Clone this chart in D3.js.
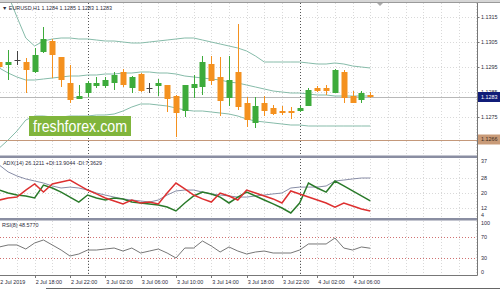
<!DOCTYPE html>
<html>
<head>
<meta charset="utf-8">
<script src="https://cdn.jsdelivr.net/npm/d3@7"></script>
<style>
body{margin:0;background:#fff}
svg{display:block;font-family:"Liberation Sans",Arial,sans-serif}
</style>
</head>
<body>
<svg id="chart" width="500" height="289"></svg>
<script>
// hourly bars, EURUSD H1
const times = [
  '2 Jul 14:00','2 Jul 15:00','2 Jul 16:00','2 Jul 17:00','2 Jul 18:00','2 Jul 19:00','2 Jul 20:00','2 Jul 21:00','2 Jul 22:00','2 Jul 23:00',
  '3 Jul 00:00','3 Jul 01:00','3 Jul 02:00','3 Jul 03:00','3 Jul 04:00','3 Jul 05:00','3 Jul 06:00','3 Jul 07:00','3 Jul 08:00','3 Jul 09:00',
  '3 Jul 10:00','3 Jul 11:00','3 Jul 12:00','3 Jul 13:00','3 Jul 14:00','3 Jul 15:00','3 Jul 16:00','3 Jul 17:00','3 Jul 18:00','3 Jul 19:00',
  '3 Jul 20:00','3 Jul 21:00','3 Jul 22:00','3 Jul 23:00','4 Jul 00:00','4 Jul 01:00','4 Jul 02:00','4 Jul 03:00','4 Jul 04:00','4 Jul 05:00',
  '4 Jul 06:00','4 Jul 07:00','4 Jul 08:00'
]
const open  = [1.1297,1.12958,1.12978,1.1297,1.1293,1.1301,1.13054,1.1299,1.12886,1.12822,
  1.12846,1.12874,1.12874,1.12886,1.1293,1.12866,1.12922,1.12866,1.12874,1.12878,
  1.12834,1.12774,1.12866,1.1287,1.12962,1.1291,1.12826,1.1293,1.12806,1.12726,
  1.12806,1.12786,1.12774,1.12774,1.12774,1.12794,1.12866,1.12866,1.12846,1.1293,
  1.12834,1.12818,1.12838]
const high  = [1.13018,1.13018,1.13014,1.12986,1.13026,1.1311,1.13062,1.1299,1.12958,1.12878,
  1.12894,1.1291,1.1291,1.1293,1.12942,1.12914,1.12926,1.12886,1.12902,1.12878,
  1.12838,1.12878,1.12918,1.12994,1.12994,1.1299,1.12994,1.13122,1.1283,1.1283,
  1.12834,1.12798,1.12794,1.1279,1.12794,1.12866,1.12874,1.12878,1.12942,1.12938,
  1.12854,1.12854,1.1285]
const low   = [1.12938,1.12898,1.12958,1.12846,1.12926,1.13006,1.12906,1.1287,1.12806,1.12822,
  1.1283,1.12866,1.12866,1.12858,1.1287,1.12846,1.1285,1.12846,1.12834,1.1277,
  1.1267,1.1275,1.12826,1.12838,1.12878,1.12754,1.12794,1.12778,1.1271,1.12706,
  1.12754,1.12758,1.12758,1.12742,1.1277,1.12794,1.1285,1.12838,1.12846,1.12806,
  1.12806,1.12806,1.12826]
const close = [1.1295,1.1297,1.12978,1.12938,1.12998,1.13062,1.12998,1.12898,1.12818,1.12834,
  1.12886,1.12886,1.12898,1.12918,1.12878,1.1291,1.12854,1.12866,1.12886,1.12822,
  1.12766,1.12878,1.12882,1.1297,1.12894,1.12814,1.12898,1.1279,1.12738,1.12794,
  1.12774,1.12762,1.12766,1.12766,1.12786,1.12858,1.12854,1.12854,1.12938,1.12826,
  1.12806,1.12846,1.1283]

const bbUpper = [1.13318,1.13238,1.1315,1.13066,1.13034,1.13054,1.13062,1.13066,1.13066,1.13062,
  1.13062,1.13058,1.13054,1.13054,1.1305,1.13046,1.13046,1.1305,1.13054,1.13058,
  1.13062,1.13066,1.13066,1.13058,1.1305,1.13042,1.13034,1.13026,1.13014,1.12994,
  1.1297,1.1297,1.1297,1.1297,1.1297,1.12966,1.12962,1.12962,1.12966,1.12962,
  1.12954,1.1295,1.12946]
const bbMiddle = [1.12946,1.12926,1.1291,1.12898,1.12898,1.12902,1.12906,1.1291,1.12914,1.12914,
  1.12918,1.12918,1.12922,1.12922,1.12926,1.12926,1.1293,1.1293,1.12926,1.12926,
  1.12922,1.12914,1.1291,1.12906,1.12902,1.12898,1.1289,1.12886,1.12878,1.1287,
  1.12862,1.12854,1.1285,1.12846,1.12846,1.12842,1.12838,1.12838,1.12834,1.12834,
  1.12834,1.12834,1.12834]
const bbLower = [1.12626,1.12658,1.12694,1.12738,1.12754,1.12754,1.1275,1.1275,1.12754,1.12754,
  1.12754,1.12758,1.12758,1.12762,1.12774,1.1279,1.12802,1.12802,1.12798,1.12794,
  1.12786,1.12778,1.12774,1.12774,1.1277,1.12766,1.12762,1.12754,1.12742,1.12734,
  1.1273,1.12726,1.12722,1.12718,1.12718,1.12714,1.12714,1.12714,1.12714,1.12714,
  1.12714,1.12714,1.12714]

const adx     = [35.1,31.4,29.2,27.6,26.5,25.4,23.8,22.7,23.2,22.7,
  21.6,20.0,18.9,17.8,16.8,16.2,15.7,15.1,16.2,18.9,
  21.1,21.6,21.6,20.5,19.5,18.9,18.4,17.8,17.8,18.4,
  18.9,19.5,20.0,22.7,23.2,23.2,23.2,23.8,26.5,27.0,
  27.6,28.1,28.1]
const plusDI  = [21.6,20.0,18.9,18.4,17.3,24.3,22.7,20.5,17.8,15.1,
  18.9,17.3,16.2,17.3,16.8,15.1,14.6,14.1,13.5,12.4,
  10.3,14.6,18.4,20.5,19.5,17.8,14.6,17.8,20.5,18.4,
  16.2,14.1,11.9,9.2,14.6,25.4,22.7,20.5,26.5,23.8,
  21.1,18.4,15.7]
const minusDI = [16.2,17.3,17.8,21.6,24.9,20.5,24.9,25.9,27.0,24.3,
  21.6,19.5,17.3,15.7,14.1,16.2,14.6,15.1,14.1,20.0,
  25.4,22.2,18.9,16.8,15.1,20.0,18.4,16.2,21.6,20.0,
  18.4,16.8,14.6,21.1,19.5,17.8,16.2,14.6,12.4,14.6,
  13.0,11.4,10.3]
const rsi = [51.0,54.8,54.8,47.1,58.6,64.3,54.8,45.2,33.8,37.6,
  45.2,45.2,47.1,49.0,43.3,49.0,39.5,43.3,47.1,39.5,
  30.0,49.0,49.0,62.4,52.9,41.4,51.0,43.3,37.6,41.4,
  43.3,39.5,39.5,39.5,45.2,56.7,56.7,56.7,68.1,49.0,
  45.2,51.0,48.6]

const priceTicks = [1.1315,1.1305,1.1295,1.1285,1.1275]
const adxTicks = [37,28,20,12,4]
const rsiTicks = [100,70,30,0]
const rsiLevels = [70,30]
const timeTickAt = ['2 Jul 14:00','2 Jul 18:00','2 Jul 22:00','3 Jul 02:00','3 Jul 06:00','3 Jul 10:00',
  '3 Jul 14:00','3 Jul 18:00','3 Jul 22:00','4 Jul 02:00','4 Jul 06:00']
const timeTickLabels = ['2 Jul 2019','2 Jul 18:00','2 Jul 22:00','3 Jul 02:00','3 Jul 06:00','3 Jul 10:00',
  '3 Jul 14:00','3 Jul 18:00','3 Jul 22:00','4 Jul 02:00','4 Jul 06:00']
const daySeparators = ['3 Jul 00:00','4 Jul 00:00']
const bidPrice = 1.1283
const linePrice = 1.1266

const svg = d3.select('#chart')
const axisX = 477.5
const panels = {main:[3,156], adx:[159,218], rsi:[221,275]}

const x = d3.scalePoint().domain(times).range([-0.7, 370.3])
const step = x.step()
const yP = d3.scaleLinear().domain([1.1265,1.1315]).range([142,17])
const yA = d3.scaleLinear().domain([20,37]).range([193,161.55])
const yR = d3.scaleLinear().domain([30,70]).range([258,237])

const defs = svg.append('defs')
Object.entries(panels).forEach(([k,[t,b]])=>{
  defs.append('clipPath').attr('id','clip-'+k)
    .append('rect').attr('x',0).attr('y',t).attr('width',axisX).attr('height',b-t)
})

// top strip
svg.append('rect').attr('x',0).attr('y',0).attr('width',500).attr('height',2).attr('fill','#d6d6d6')
svg.append('line').attr('x1',0).attr('x2',500).attr('y1',2.5).attr('y2',2.5).attr('stroke','#9a9a9a')

// vertical grid every two bars
const gridXs = []
for(let gx = x(times[0]); gx < axisX; gx += step*2){ if(gx > 0) gridXs.push(gx) }
const grid = svg.append('g').attr('stroke','#d9d9d9').attr('stroke-dasharray','1,2')
Object.values(panels).forEach(([t,b])=>{
  grid.selectAll(null).data(gridXs).enter().append('line')
    .attr('x1',d=>Math.round(d)+0.5).attr('x2',d=>Math.round(d)+0.5).attr('y1',t).attr('y2',b)
})
grid.selectAll(null).data(priceTicks).enter().append('line')
  .attr('x1',0).attr('x2',axisX).attr('y1',d=>Math.round(yP(d))+0.5).attr('y2',d=>Math.round(yP(d))+0.5)
grid.selectAll(null).data(adxTicks.slice(1,4)).enter().append('line')
  .attr('x1',0).attr('x2',axisX).attr('y1',d=>Math.round(yA(d))+0.5).attr('y2',d=>Math.round(yA(d))+0.5)

// day separators
svg.append('g').attr('stroke','#555').attr('stroke-dasharray','1,2')
  .selectAll('line').data(daySeparators).enter().append('line')
  .attr('x1',d=>Math.round(x(d))+0.5).attr('x2',d=>Math.round(x(d))+0.5).attr('y1',3).attr('y2',275)

// main panel
const main = svg.append('g').attr('clip-path','url(#clip-main)')
const bandColor = '#86bba9'
;[bbUpper,bbMiddle,bbLower].forEach(arr=>{
  main.append('path').datum(arr)
    .attr('d', d3.line().x((d,i)=>x(times[i])).y(d=>yP(d)))
    .attr('fill','none').attr('stroke',bandColor).attr('stroke-width',1)
})

// bid line and horizontal level line
main.append('line').attr('x1',0).attr('x2',axisX).attr('y1',Math.round(yP(bidPrice))+0.5).attr('y2',Math.round(yP(bidPrice))+0.5)
  .attr('stroke','#b8b8b8')
main.append('line').attr('x1',0).attr('x2',axisX).attr('y1',Math.round(yP(linePrice))+0.5).attr('y2',Math.round(yP(linePrice))+0.5)
  .attr('stroke','#c4987a')

const green = '#3dab3b', orange = '#f4911f', doji = '#444'
const candles = times.map((t,i)=>({t, o:open[i], h:high[i], l:low[i], c:close[i]}))
const cg = main.append('g')
candles.forEach(d=>{
  const cx = Math.round(x(d.t))
  const col = d.c > d.o ? green : (d.c < d.o ? orange : doji)
  cg.append('line').attr('x1',cx+0.5).attr('x2',cx+0.5).attr('y1',yP(d.h)).attr('y2',yP(d.l)).attr('stroke',col)
  if(d.c === d.o){
    cg.append('line').attr('x1',cx-2.5).attr('x2',cx+3.5).attr('y1',Math.round(yP(d.o))+0.5).attr('y2',Math.round(yP(d.o))+0.5).attr('stroke',col)
  } else {
    const top = yP(Math.max(d.o,d.c)), bot = yP(Math.min(d.o,d.c))
    cg.append('rect').attr('x',cx-2.5).attr('y',top).attr('width',6).attr('height',Math.max(1,bot-top)).attr('fill',col)
  }
})

// logo
const logo = svg.append('g')
logo.append('rect').attr('x',29).attr('y',116).attr('width',102).attr('height',20).attr('fill','#80b53c')
logo.append('text').attr('x',33).attr('y',132).attr('fill','#fff').attr('font-size',16.5)
  .attr('textLength',94).attr('lengthAdjust','spacingAndGlyphs').text('freshforex.com')

// ADX panel
const adxG = svg.append('g').attr('clip-path','url(#clip-adx)')
const lineA = d3.line().x((d,i)=>x(times[i])).y(d=>yA(d))
adxG.append('path').datum(adx).attr('d',lineA).attr('fill','none').attr('stroke','#7a809c').attr('stroke-width',0.9)
adxG.append('path').datum(plusDI).attr('d',lineA).attr('fill','none').attr('stroke','#2a7a2a').attr('stroke-width',1.5)
adxG.append('path').datum(minusDI).attr('d',lineA).attr('fill','none').attr('stroke','#dd3030').attr('stroke-width',1.5)

// RSI panel
const rsiG = svg.append('g').attr('clip-path','url(#clip-rsi)')
rsiG.selectAll(null).data(rsiLevels).enter().append('line')
  .attr('x1',0).attr('x2',axisX).attr('y1',d=>Math.round(yR(d))+0.5).attr('y2',d=>Math.round(yR(d))+0.5)
  .attr('stroke','#d07070').attr('stroke-dasharray','1,2')
rsiG.append('path').datum(rsi).attr('d', d3.line().x((d,i)=>x(times[i])).y(d=>yR(d)))
  .attr('fill','none').attr('stroke','#666').attr('stroke-width',0.9)

// panel separators and frame
svg.append('rect').attr('x',0).attr('y',155.5).attr('width',axisX+0.5).attr('height',2.5).attr('fill','#8a8ea2')
svg.append('rect').attr('x',0).attr('y',218).attr('width',axisX+0.5).attr('height',2.5).attr('fill','#8a8ea2')
svg.append('line').attr('x1',axisX).attr('x2',axisX).attr('y1',3).attr('y2',275.5).attr('stroke','#777')
svg.append('line').attr('x1',0).attr('x2',axisX).attr('y1',275.5).attr('y2',275.5).attr('stroke','#777')
svg.append('line').attr('x1',46).attr('x2',500).attr('y1',288.5).attr('y2',288.5).attr('stroke','#666')
svg.append('path').attr('d','M377,3L383,3L380,6Z').attr('fill','#aaa')

const fs = 5.4, txt = '#2b2b3a'
// right axis labels
const ra = svg.append('g').attr('font-size',fs).attr('fill',txt)
ra.selectAll(null).data(priceTicks).enter().append('text')
  .attr('x',481).attr('y',d=>yP(d)).attr('dy','0.35em').text(d=>d.toFixed(4))
ra.selectAll(null).data(adxTicks).enter().append('text')
  .attr('x',481).attr('y',d=>Math.min(yA(d),215)).attr('dy','0.35em').text(d=>d)
ra.selectAll(null).data(rsiTicks).enter().append('text')
  .attr('x',481).attr('y',d=>Math.max(223,Math.min(yR(d),272))).attr('dy','0.35em').text(d=>d)
const tk = svg.append('g').attr('stroke','#777')
tk.selectAll(null).data(priceTicks).enter().append('line')
  .attr('x1',axisX).attr('x2',axisX+2).attr('y1',d=>Math.round(yP(d))+0.5).attr('y2',d=>Math.round(yP(d))+0.5)

// price boxes
svg.append('rect').attr('x',478).attr('y',yP(bidPrice)-5).attr('width',22).attr('height',10).attr('fill','#101c78')
svg.append('text').attr('x',481).attr('y',yP(bidPrice)).attr('dy','0.35em').attr('font-size',fs).attr('fill','#fff').text(bidPrice.toFixed(4))
svg.append('rect').attr('x',478).attr('y',yP(linePrice)-5).attr('width',22).attr('height',10).attr('fill','#c99b78')
svg.append('text').attr('x',481).attr('y',yP(linePrice)).attr('dy','0.35em').attr('font-size',fs).attr('fill','#3a2a20').text(linePrice.toFixed(4))

// time axis
const ta = svg.append('g').attr('font-size',fs).attr('fill',txt)
ta.selectAll(null).data(timeTickAt).enter().append('text')
  .attr('x',d=>x(d)+1).attr('y',284).text((d,i)=>timeTickLabels[i])
tk.selectAll(null).data(timeTickAt).enter().append('line')
  .attr('x1',d=>Math.round(x(d))+0.5).attr('x2',d=>Math.round(x(d))+0.5).attr('y1',275.5).attr('y2',278)

// captions
svg.append('text').attr('x',2).attr('y',9.5).attr('font-size',fs).attr('fill',txt)
  .text('\u25BC EURUSD,H1  1.1284 1.1285 1.1283 1.1283')
svg.append('text').attr('x',3).attr('y',165).attr('font-size',fs).attr('fill',txt)
  .text('ADX(14) 26.1211 +DI:13.9044 -DI:7.3629')
svg.append('text').attr('x',2).attr('y',227).attr('font-size',fs).attr('fill',txt)
  .text('RSI(8) 48.5770')
</script>
</body>
</html>
